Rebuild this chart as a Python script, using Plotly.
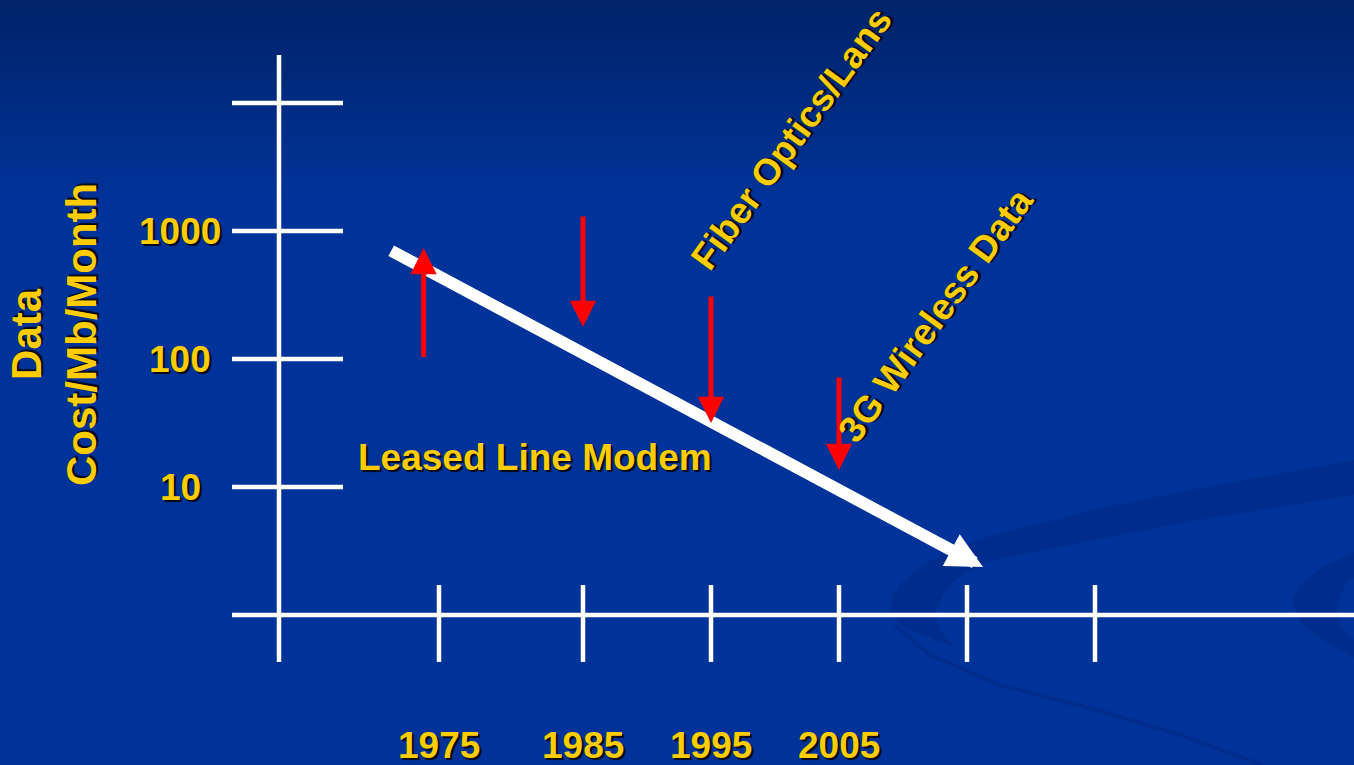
import numpy as np
import plotly.graph_objects as go

# ---- data -------------------------------------------------------------
cost_ticks = [10, 100, 1000, 10000]              # log-scale cost gridlines
cost_labels = ["10", "100", "1000", ""]
year_tick_pos = [1973.75, 1985, 1995, 2005, 2015, 2025]
year_labels = ["1975", "1985", "1995", "2005", "", ""]
origin_year, origin_cost = 1961.25, 1

# overall cost trend (white arrow): start -> end
trend_years = [1969.9, 2016.25]
trend_cost = [711, 2.37]

# technology shifts (red arrows): year, tail cost, head cost
shift_years = [1972.55, 1985, 1995, 2005]
shift_from = [101, 1334, 316, 73.7]
shift_to = [736, 178, 31.6, 13.6]

tech_labels = ["Leased Line Modem", "Fiber Optics/Lans", "3G Wireless Data"]
tech_years = [1981.25, 2001.3, 2012.55]
tech_cost = [17, 5300, 217]
tech_angles = [0, -54, -54]

# ---- figure geometry ----------------------------------------------------
W, H = 1354, 765
X_RANGE = [1939.453, 2045.234]
Y_RANGE = [-150 / 128, 615 / 128]   # log10 units

GOLD = "#FFCC00"
FONT = "Liberation Sans, Arial, sans-serif"
SHADOW = "2px 2px 1px rgba(0,0,0,0.85)"


def lg(v):
    return float(np.log10(v))


def px(x, y):
    return x / W, 1 - y / H


fig = go.Figure()

# axis frame: vertical axis, horizontal axis, tick bars
lx, ly = [], []
lx += [origin_year, origin_year, None]
ly += [0.43, 23714, None]
lx += [1957.58, X_RANGE[1], None]
ly += [origin_cost, origin_cost, None]
for c in cost_ticks:
    lx += [1957.58, 1966.25, None]
    ly += [c, c, None]
for yr in year_tick_pos:
    lx += [yr, yr, None]
    ly += [1.715, 0.43, None]
fig.add_trace(go.Scatter(x=lx, y=ly, mode="lines",
                         line=dict(color="white", width=4.5),
                         hoverinfo="skip", showlegend=False))

ann = []
# cost tick labels
for c, t in zip(cost_ticks, cost_labels):
    if t:
        ann.append(dict(x=1953.52, y=lg(c), text=f"<b>{t}</b>", showarrow=False,
                        xanchor="center", yanchor="middle",
                        font=dict(family=FONT, size=37, color=GOLD, shadow=SHADOW)))
# year labels
for yr, t in zip(year_tick_pos, year_labels):
    if t:
        ann.append(dict(x=yr, y=-1.0156, text=f"<b>{t}</b>", showarrow=False,
                        xanchor="center", yanchor="middle",
                        font=dict(family=FONT, size=37, color=GOLD, shadow=SHADOW)))
# y title
tx, ty = px(54, 335)
ann.append(dict(xref="paper", yref="paper", x=tx, y=ty,
                text="<b>Data<br>Cost/Mb/Month</b>", showarrow=False,
                textangle=-90, xanchor="center", yanchor="middle",
                font=dict(family=FONT, size=42, color=GOLD, shadow=SHADOW)))

# trend arrow
ann.append(dict(x=trend_years[1], y=lg(trend_cost[1]),
                ax=trend_years[0], ay=lg(trend_cost[0]),
                axref="x", ayref="y", text="", showarrow=True,
                arrowhead=2, arrowsize=0.6, arrowwidth=12,
                arrowcolor="white", standoff=0, startstandoff=0))
# shift arrows
for yr, a, b in zip(shift_years, shift_from, shift_to):
    ann.append(dict(x=yr, y=lg(b), ax=yr, ay=lg(a),
                    axref="x", ayref="y", text="", showarrow=True,
                    arrowhead=2, arrowsize=1.05, arrowwidth=5,
                    arrowcolor="#FF0000", standoff=0, startstandoff=0))
# technology labels
for t, yr, c, ang in zip(tech_labels, tech_years, tech_cost, tech_angles):
    ann.append(dict(x=yr, y=lg(c), text=f"<b>{t}</b>", showarrow=False,
                    textangle=ang, xanchor="center", yanchor="middle",
                    font=dict(family=FONT, size=37, color=GOLD, shadow=SHADOW)))

# background: top gradient band and soft swooshes
shapes = []
top = np.array([0, 35, 105])
base = np.array([0, 51, 153])
step = 5
for y0 in range(0, 200, step):
    f = y0 / 200
    c = top + (base - top) * f
    x0p, y0p = px(0, y0)
    x1p, y1p = px(W, y0 + step)
    shapes.append(dict(type="rect", xref="paper", yref="paper", layer="below",
                       x0=x0p, x1=x1p, y0=y1p, y1=y0p, line=dict(width=0),
                       fillcolor=f"rgb({c[0]:.0f},{c[1]:.0f},{c[2]:.0f})"))


def path(points, close=True):
    s = ""
    for i, (a, b) in enumerate(points):
        pa, pb = px(a, b)
        s += ("M" if i == 0 else "L") + f"{pa:.5f},{pb:.5f} "
    return s + ("Z" if close else "")


swoosh1 = [(890, 612), (893, 595), (902, 582), (920, 567), (945, 553), (975, 541),
           (1010, 530), (1060, 519), (1100, 508), (1200, 488), (1300, 470),
           (1354, 460), (1354, 495), (1300, 504), (1200, 520), (1100, 539),
           (1040, 551), (985, 562), (958, 578), (945, 592), (935, 612),
           (940, 630), (955, 647), (935, 640), (905, 628)]
swoosh2 = [(1354, 552), (1320, 568), (1300, 585), (1292, 600), (1300, 622),
           (1325, 642), (1354, 658), (1354, 640), (1340, 625), (1337, 606),
           (1345, 585), (1354, 578)]
for pts in (swoosh1, swoosh2):
    shapes.append(dict(type="path", xref="paper", yref="paper", layer="below",
                       path=path(pts), line=dict(width=0),
                       fillcolor="rgba(0,25,95,0.2)"))
thin = [(895, 625), (930, 655), (1000, 685), (1100, 711), (1180, 735), (1262, 765)]
shapes.append(dict(type="path", xref="paper", yref="paper", layer="below",
                   path=path(thin, close=False),
                   line=dict(color="rgba(0,25,95,0.22)", width=4)))

fig.update_layout(
    width=W, height=H, autosize=False,
    margin=dict(l=0, r=0, t=0, b=0, pad=0),
    paper_bgcolor="#003399", plot_bgcolor="rgba(0,0,0,0)",
    xaxis=dict(range=X_RANGE, visible=False, fixedrange=True),
    yaxis=dict(type="log", range=Y_RANGE, visible=False, fixedrange=True),
    annotations=ann, shapes=shapes, showlegend=False,
)

fig.write_html("out.html", config={"displayModeBar": False})
